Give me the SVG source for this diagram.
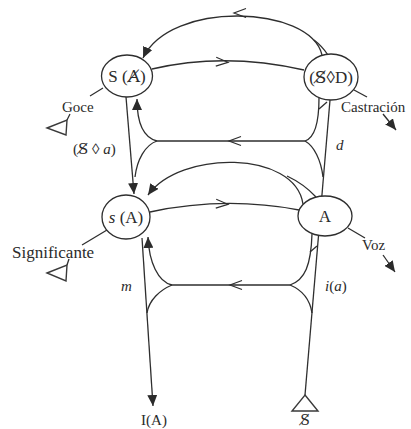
<svg xmlns="http://www.w3.org/2000/svg" xmlns:xlink="http://www.w3.org/1999/xlink" width="411" height="429" viewBox="0 0 411 429">
  <style>
    .ln { fill: none; stroke: #2e2e2e; stroke-width: 1.3; }
    .chev { fill: none; stroke: #2e2e2e; stroke-width: 1.2; }
    .node { fill: #ffffff; stroke: #2e2e2e; stroke-width: 1.3; }
    .tri { fill: #ffffff; stroke: #3a3a3a; stroke-width: 1.4; stroke-linejoin: miter; }
    .lbl { font-family: "Liberation Serif", "DejaVu Serif", serif; fill: #2b2b2b; }
    .bar { font-family: "DejaVu Serif", serif; }
    .nlab { font-size: 17px; text-anchor: middle; }
    .side { font-size: 15px; }
    .it { font-style: italic; }
  </style>
  <defs>
    <marker id="head" markerUnits="userSpaceOnUse" markerWidth="12" markerHeight="10" refX="11" refY="5" orient="auto">
      <path d="M0,0 L11,5 L0,10 z" fill="#2b2b2b"/>
    </marker>
    <!-- open chevron, pointing left -->
    <path id="chev" class="chev" d="M6,-4.5 L-6,0 L6,4.5"/>
  </defs>

  <rect width="411" height="429" fill="#ffffff"/>

  <g id="connectors">
    <!-- top arc from (S◊D) back to S(A) -->
    <path class="ln" d="M322,55 C310,5 170,0 143,58" marker-end="url(#head)"/>
    <path class="ln" d="M314,40 Q322,46 328,55"/>
    <use xlink:href="#chev" transform="translate(240,13)"/>

    <!-- S(A) to (S◊D) -->
    <path class="ln" d="M152,69 Q225,52 304,70"/>
    <use xlink:href="#chev" transform="translate(222,62) rotate(183)"/>

    <!-- left vertical, upper -->
    <path class="ln" d="M126,97 L134,194" marker-end="url(#head)"/>

    <!-- upper return line with forks -->
    <path class="ln" d="M157,141 L305,141"/>
    <use xlink:href="#chev" transform="translate(235,141)"/>
    <path class="ln" d="M157,141 C145,138 137,125 137,99" marker-end="url(#head)"/>
    <path class="ln" d="M157,141 C145,145 137,160 135,177"/>
    <path class="ln" d="M305,141 C314,138 319,125 319,98"/>
    <path class="ln" d="M305,141 C314,146 321,160 323,177"/>
    <path class="ln" d="M319,109 L327,102"/>

    <!-- right vertical from the barred S up to (S◊D) -->
    <path class="ln" d="M305,395 L330,100"/>

    <!-- lower arc from A back to s(A) -->
    <path class="ln" d="M303,204 C295,150 180,150 148,195" marker-end="url(#head)"/>
    <path class="ln" d="M287,176 Q304,184 316,197"/>

    <!-- s(A) to A -->
    <path class="ln" d="M150,212 Q225,196 299,210"/>
    <use xlink:href="#chev" transform="translate(222,204) rotate(183)"/>

    <!-- left vertical, lower, to I(A) -->
    <path class="ln" d="M142,238 L153,406" marker-end="url(#head)"/>

    <!-- lower return line with forks -->
    <path class="ln" d="M172,285 L290,285"/>
    <use xlink:href="#chev" transform="translate(236,285)"/>
    <path class="ln" d="M172,285 C158,282 149,262 148,237" marker-end="url(#head)"/>
    <path class="ln" d="M172,285 C160,290 149,300 147,313"/>
    <path class="ln" d="M290,285 C305,280 311,265 312,234"/>
    <path class="ln" d="M290,285 C302,290 310,300 312,313"/>
    <path class="ln" d="M310,252 L317,246"/>

    <!-- side strokes -->
    <path class="ln" d="M103,88 L90,96"/>
    <path class="ln" d="M354,90 L367,97"/>
    <path class="ln" d="M383,114 L396,130" marker-end="url(#head)"/>
    <path class="ln" d="M107,230 L82,245"/>
    <path class="ln" d="M348,228 L365,238"/>
    <path class="ln" d="M383,255 L395,272" marker-end="url(#head)"/>
  </g>

  <g id="node-SA-barred">
    <ellipse class="node" cx="127" cy="76" rx="25.5" ry="21"/>
    <text class="lbl nlab" x="127" y="82">S (<tspan class="bar">A&#x338;</tspan>)</text>
  </g>

  <g id="node-drive">
    <ellipse class="node" cx="331" cy="77" rx="27" ry="23"/>
    <text class="lbl nlab" x="331" y="83">(<tspan class="bar">S&#x338;</tspan>&#x25CA;D)</text>
  </g>

  <g id="node-sA">
    <ellipse class="node" cx="126" cy="217" rx="24" ry="22"/>
    <text class="lbl nlab" x="126" y="223"><tspan class="it">s</tspan> (A)</text>
  </g>

  <g id="node-A">
    <ellipse class="node" cx="325" cy="216" rx="27" ry="20"/>
    <text class="lbl nlab" x="325" y="222">A</text>
  </g>

  <g id="goce">
    <text class="lbl side" x="62" y="112">Goce</text>
    <path class="tri" d="M47,128 L67,120 L66,135 Z"/>
    <path class="ln" d="M67,120 L70,114"/>
  </g>

  <g id="significante">
    <text class="lbl side" x="12" y="258" style="font-size:17px">Significante</text>
    <path class="tri" d="M47,273 L67,265 L66,281 Z"/>
    <path class="ln" d="M67,265 L69,259"/>
  </g>

  <g id="castracion">
    <text class="lbl side" x="341" y="112">Castración</text>
  </g>

  <g id="voz">
    <text class="lbl side" x="362" y="250">Voz</text>
  </g>

  <g id="barred-S">
    <path class="tri" d="M305,395 L318,411 L292,411 Z"/>
    <text class="lbl nlab" x="305" y="425" style="font-size:14px"><tspan class="bar">S&#x338;</tspan></text>
  </g>

  <g id="I-A">
    <text class="lbl nlab" x="154" y="425" style="font-size:15px">I(A)</text>
  </g>

  <g id="labels">
    <text class="lbl side" x="73" y="154">(<tspan class="bar">S&#x338;</tspan> &#x25CA; <tspan class="it">a</tspan>)</text>
    <text class="lbl side it" x="336" y="150">d</text>
    <text class="lbl side it" x="121" y="291">m</text>
    <text class="lbl side" x="325" y="291"><tspan class="it">i</tspan>(<tspan class="it">a</tspan>)</text>
  </g>
</svg>
